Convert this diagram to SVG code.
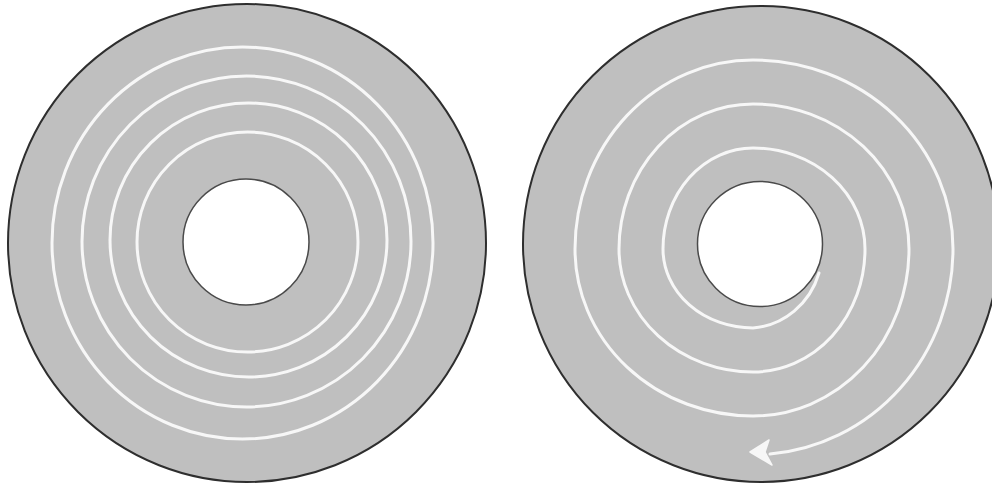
<svg xmlns="http://www.w3.org/2000/svg" width="992" height="486" viewBox="0 0 992 486">
<style>
.disk{fill:#bfbfbf;stroke:#2e2e2e;stroke-width:2}
.hole{fill:#ffffff;stroke:#4a4a4a;stroke-width:1.5}
.track{fill:none;stroke:#f7f7f7;stroke-width:3;stroke-linecap:round}
</style>
<rect width="992" height="486" fill="#ffffff"/>
<g id="concentric-disk">
  <circle class="disk" cx="247" cy="243" r="239"/>
  <ellipse class="track" cx="242.5" cy="243" rx="190.5" ry="196"/>
  <ellipse class="track" cx="246.5" cy="241.5" rx="164.5" ry="165.5"/>
  <ellipse class="track" cx="248.5" cy="240" rx="138.5" ry="137"/>
  <ellipse class="track" cx="247.5" cy="242" rx="110.5" ry="110"/>
  <circle class="hole" cx="246" cy="242" r="63"/>
</g>
<g id="spiral-disk">
  <circle class="disk" cx="761" cy="244" r="238"/>
  <circle class="hole" cx="760" cy="244" r="62.5"/>
  <path class="track" d="M 819 273 A 75 78 0 0 1 753 328 A 90 79 0 0 1 663 249 A 90 101 0 0 1 753 148 A 112 101 0 0 1 865 249 A 112 123 0 0 1 753 372 A 134 123 0 0 1 619 249 A 134 145 0 0 1 753 104 A 156 145 0 0 1 909 249 A 156 167 0 0 1 753 416 A 178 167 0 0 1 575 249 A 178 189 0 0 1 753 60 A 200 189 0 0 1 953 249 A 200 206 0 0 1 770 454"/>
  <polygon points="750,452 769,440 765,452 772,465" fill="#f7f7f7" stroke="#f7f7f7" stroke-width="1.5" stroke-linejoin="round"/>
</g>
</svg>
